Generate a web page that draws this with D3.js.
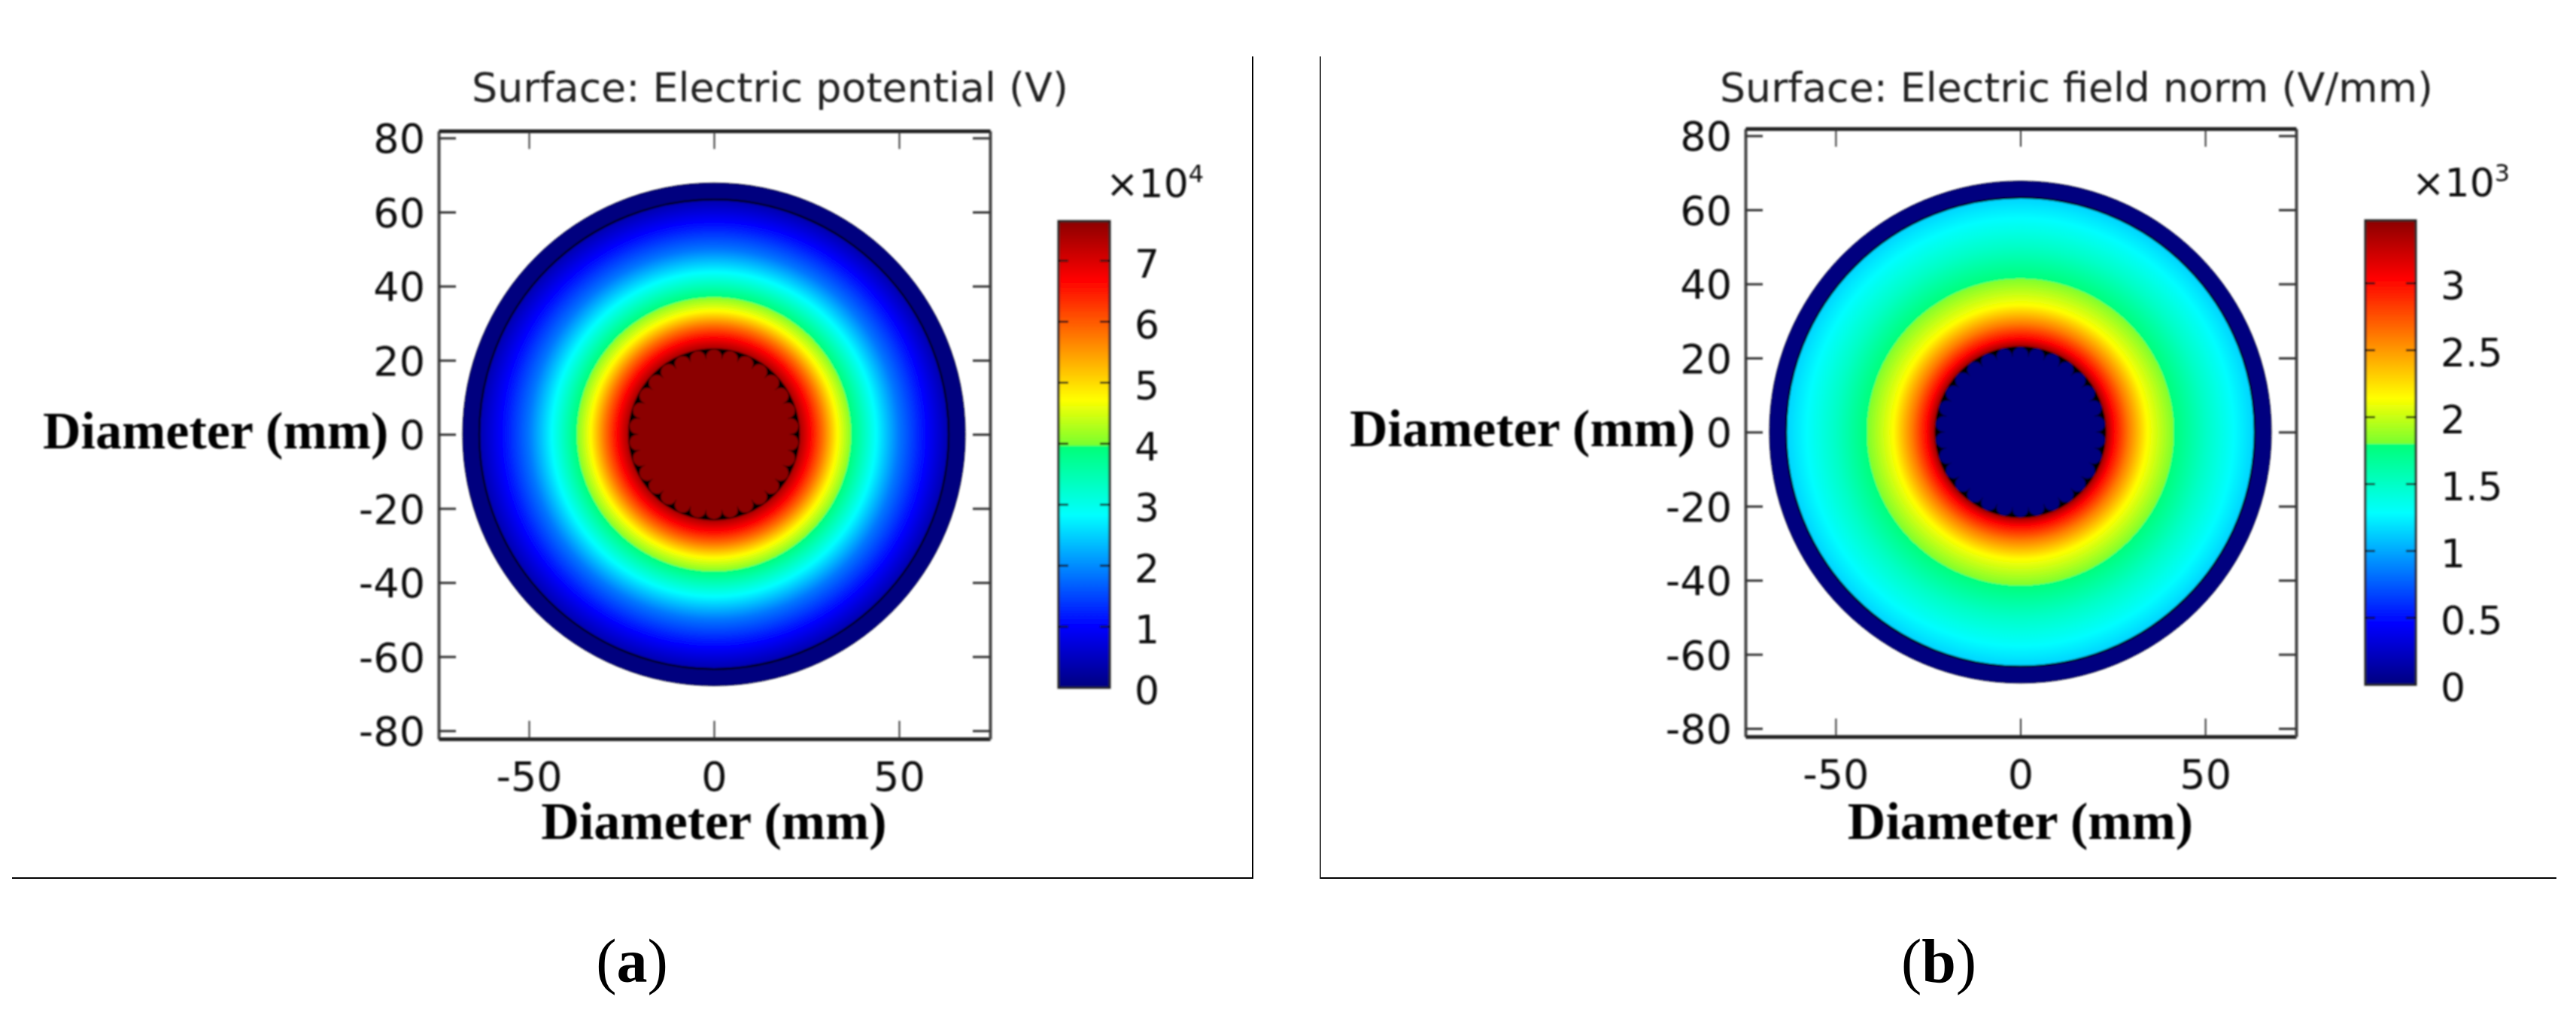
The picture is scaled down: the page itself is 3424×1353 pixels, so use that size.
<!DOCTYPE html>
<html lang="en">
<head>
<meta charset="UTF-8">
<title>Electric potential and electric field norm</title>
<style>
    body { margin: 0; background: #fff; }
    svg { display: block; }
    .tick-label text, .bar-label { font-family: "DejaVu Sans", sans-serif; fill: #111; }
    .plot-title { font-family: "DejaVu Sans", sans-serif; fill: #222; }
    .axis-title, .panel-tag { font-family: "Liberation Serif", serif; fill: #000; }
</style>
</head>
<body>
<svg id="chart" width="3424" height="1353"></svg>
<script src="https://d3js.org/d3.v7.min.js"></script>
<script>
// axis ticks (mm)
const xTicks = [-50, 0, 50];
const yTicks = [-80, -60, -40, -20, 0, 20, 40, 60, 80];
const potentialTicks = [0, 1, 2, 3, 4, 5, 6, 7];
const fieldTicks = [0, 0.5, 1, 1.5, 2, 2.5, 3];

// rainbow colour table (fraction of bar height)
const colorFractions = [0, 0.13, 0.37, 0.5180, 0.5190, 0.617, 0.875, 1];
const colorValues = ['#00007f', '#0000ff', '#00ffff', '#00ff78', '#78ff30', '#ffff00', '#ff0000', '#8b0000'];

// radial profiles: radius (mm) -> value
const potentialRadii = [23.2, 26, 29.5, 33.4, 37, 37, 43.8, 50, 57.5, 63.5];
const potentialValues = [7.4, 6.7, 5.8, 4.72, 4.03, 3.96, 2.83, 1.85, 1.0, 0.35];
const fieldRadii = [23.2, 25.3, 29.3, 34.4, 41.5, 41.5, 50, 57.8, 63.3];
const fieldValues = [3.4, 3.03, 2.6, 2.14, 1.81, 1.79, 1.5, 1.28, 1.14];

// geometry of the cable (mm)
const outerRadius = 67.9;
const shieldRadius = 63.4;
const conductorRadius = 23.2;
const strandCount = 30;
const strandOrbit = 20.8;
const strandRadius = 2.13;
const coreRadius = 20.5;

const svg = d3.select('#chart');

const defs = svg.append('defs');
defs.append('filter').attr('id', 'soft')
    .attr('x', '-5%').attr('y', '-5%').attr('width', '110%').attr('height', '110%')
    .append('feGaussianBlur').attr('stdDeviation', 0.8);

const colorScale = d3.scaleLinear().domain(colorFractions).range(colorValues);

function drawPanel(p) {
    const g = svg.append('g').attr('filter', 'url(#soft)');

    const x = d3.scaleLinear().domain([-74.4, 74.6]).range([p.left, p.right]);
    const y = d3.scaleLinear().domain([-82.2, 81.9]).range([p.bottom, p.top]);
    const pxPerMm = x(1) - x(0);
    const radius = d3.scaleLinear().domain([0, 1]).range([0, pxPerMm]);

    // field
    const cx = x(0), cy = y(0);
    const grad = defs.append('radialGradient').attr('id', 'field-' + p.id)
        .attr('gradientUnits', 'userSpaceOnUse')
        .attr('cx', cx).attr('cy', cy).attr('r', radius(shieldRadius));
    grad.selectAll('stop').data(p.radii).join('stop')
        .attr('offset', d => d / shieldRadius)
        .attr('stop-color', (d, i) => colorScale(p.values[i] / p.barMax));

    g.append('circle').attr('cx', cx).attr('cy', cy).attr('r', radius(outerRadius))
        .attr('fill', '#00007f').attr('stroke', '#111').attr('stroke-width', 1);
    g.append('circle').attr('cx', cx).attr('cy', cy).attr('r', radius(shieldRadius))
        .attr('fill', `url(#field-${p.id})`).attr('stroke', '#000').attr('stroke-width', 2.5);

    // stranded conductor
    g.append('circle').attr('cx', cx).attr('cy', cy).attr('r', radius(conductorRadius)).attr('fill', '#000');
    g.append('circle').attr('cx', cx).attr('cy', cy).attr('r', radius(coreRadius)).attr('fill', p.coreColor);
    g.selectAll('circle.strand').data(d3.range(strandCount)).join('circle')
        .attr('class', 'strand')
        .attr('cx', d => x(strandOrbit * Math.cos(Math.PI / 2 + d * 2 * Math.PI / strandCount)))
        .attr('cy', d => y(strandOrbit * Math.sin(Math.PI / 2 + d * 2 * Math.PI / strandCount)))
        .attr('r', radius(strandRadius))
        .attr('fill', p.coreColor);

    // ticks on all four sides, labels left and bottom
    const fmt = d => String(d);
    const axisLeft = g.append('g').attr('class', 'tick-label').attr('transform', `translate(${p.left},0)`)
        .call(d3.axisLeft(y).tickValues(yTicks).tickSizeInner(-23).tickSizeOuter(0).tickPadding(18).tickFormat(fmt));
    const axisBottom = g.append('g').attr('class', 'tick-label').attr('transform', `translate(0,${p.bottom})`)
        .call(d3.axisBottom(x).tickValues(xTicks).tickSizeInner(-24).tickSizeOuter(0).tickPadding(31).tickFormat(fmt));
    const axisRight = g.append('g').attr('transform', `translate(${p.right},0)`)
        .call(d3.axisRight(y).tickValues(yTicks).tickSizeInner(-23).tickSizeOuter(0).tickFormat(''));
    const axisTop = g.append('g').attr('transform', `translate(0,${p.top})`)
        .call(d3.axisTop(x).tickValues(xTicks).tickSizeInner(-24).tickSizeOuter(0).tickFormat(''));

    axisLeft.selectAll('text').attr('font-size', 54).attr('dy', '0.36em');
    axisBottom.selectAll('text').attr('font-size', 54);
    [axisLeft, axisRight].forEach(a => {
        a.selectAll('.tick line').attr('stroke', '#333').attr('stroke-width', 3);
        a.select('.domain').attr('stroke', '#444').attr('stroke-width', 4);
    });
    [axisTop, axisBottom].forEach(a => {
        a.selectAll('.tick line').attr('stroke', '#333').attr('stroke-width', 2);
        a.select('.domain').attr('stroke', '#222').attr('stroke-width', 5);
    });

    // colour bar
    const bar = d3.scaleLinear().domain([0, p.barMax]).range([p.barBottom, p.barTop]);
    const barGrad = defs.append('linearGradient').attr('id', 'bar-' + p.id)
        .attr('x1', 0).attr('y1', 1).attr('x2', 0).attr('y2', 0);
    barGrad.selectAll('stop').data(colorFractions).join('stop')
        .attr('offset', d => d)
        .attr('stop-color', (d, i) => colorValues[i]);
    g.append('rect')
        .attr('x', p.barLeft).attr('y', p.barTop)
        .attr('width', p.barWidth).attr('height', p.barBottom - p.barTop)
        .attr('fill', `url(#bar-${p.id})`).attr('stroke', '#222').attr('stroke-width', 3);

    const barTicks = p.ticks.filter(d => d > 0);
    g.selectAll('line.bar-left').data(barTicks).join('line').attr('class', 'bar-left')
        .attr('x1', p.barLeft).attr('x2', p.barLeft + 13)
        .attr('y1', d => bar(d)).attr('y2', d => bar(d))
        .attr('stroke', '#111').attr('stroke-width', 2.5);
    g.selectAll('line.bar-right').data(barTicks).join('line').attr('class', 'bar-right')
        .attr('x1', p.barLeft + p.barWidth - 13).attr('x2', p.barLeft + p.barWidth)
        .attr('y1', d => bar(d)).attr('y2', d => bar(d))
        .attr('stroke', '#111').attr('stroke-width', 2.5);
    g.selectAll('text.bar-label').data(p.ticks).join('text').attr('class', 'bar-label')
        .attr('x', p.barLeft + p.barWidth + 33)
        .attr('y', d => bar(d))
        .attr('dy', '0.42em')
        .attr('font-size', 52)
        .text(fmt);

    // multiplier above the bar
    const mult = g.append('text').attr('class', 'bar-label')
        .attr('x', p.barLeft + p.barWidth - 5)
        .attr('y', p.barTop - 32)
        .attr('font-size', 52);
    mult.append('tspan').text('×10');
    mult.append('tspan').attr('font-size', 32).attr('dy', -20).text(p.power);

    // titles
    g.append('text').attr('class', 'plot-title')
        .attr('x', p.titleX).attr('y', 135)
        .attr('font-size', 54)
        .attr('textLength', p.titleWidth).attr('lengthAdjust', 'spacingAndGlyphs')
        .text(p.title);

    g.append('text').attr('class', 'axis-title')
        .attr('x', p.left - 526).attr('y', cy + 19)
        .attr('font-size', 70).attr('font-weight', 'bold')
        .text('Diameter (mm)');
    g.append('text').attr('class', 'axis-title')
        .attr('x', cx).attr('y', 1115)
        .attr('text-anchor', 'middle')
        .attr('font-size', 70).attr('font-weight', 'bold')
        .text('Diameter (mm)');

    // panel rules and tag stay sharp
    svg.append('line').attr('x1', p.ruleX).attr('x2', p.ruleX).attr('y1', 75).attr('y2', 1168)
        .attr('stroke', '#000').attr('stroke-width', p.ruleWidth);
    svg.append('line').attr('x1', p.ruleFrom).attr('x2', p.ruleTo).attr('y1', 1167).attr('y2', 1167)
        .attr('stroke', '#000').attr('stroke-width', 2);

    const tag = svg.append('text').attr('class', 'panel-tag')
        .attr('x', p.tagX).attr('y', 1305)
        .attr('text-anchor', 'middle')
        .attr('font-size', 82);
    tag.append('tspan').text('(');
    tag.append('tspan').attr('font-weight', 'bold').text(p.id);
    tag.append('tspan').text(')');
}

drawPanel({
    id: 'a', title: 'Surface: Electric potential (V)', titleX: 627, titleWidth: 793,
    left: 583, right: 1316, top: 174, bottom: 982,
    barLeft: 1407, barWidth: 68, barTop: 294, barBottom: 914, barMax: 7.65,
    ticks: potentialTicks, power: '4', radii: potentialRadii, values: potentialValues,
    coreColor: '#8b0000',
    ruleX: 1665, ruleWidth: 2, ruleFrom: 16, ruleTo: 1666, tagX: 840
});

drawPanel({
    id: 'b', title: 'Surface: Electric field norm (V/mm)', titleX: 2286, titleWidth: 948,
    left: 2320, right: 3052, top: 171, bottom: 979,
    barLeft: 3144, barWidth: 67, barTop: 293, barBottom: 910, barMax: 3.47,
    ticks: fieldTicks, power: '3', radii: fieldRadii, values: fieldValues,
    coreColor: '#00007f',
    ruleX: 1755, ruleWidth: 1.5, ruleFrom: 1755, ruleTo: 3398, tagX: 2577
});
</script>
</body>
</html>
